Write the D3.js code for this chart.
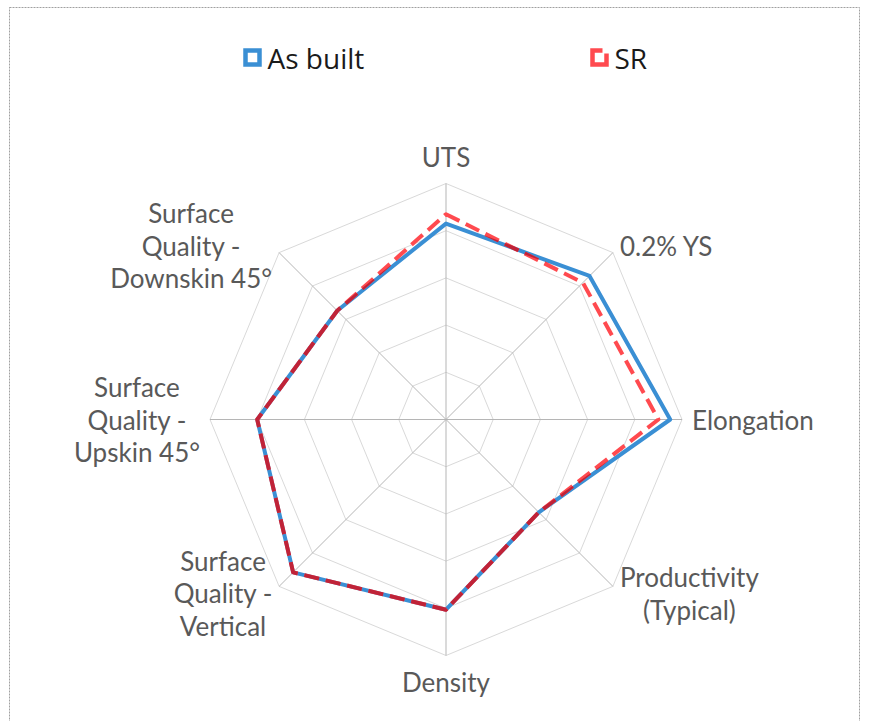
<!DOCTYPE html>
<html>
<head>
<meta charset="utf-8">
<script src="https://cdn.jsdelivr.net/npm/d3@7"></script>
<style>
  body { margin: 0; background: #fff; }
  svg { display: block; }
</style>
</head>
<body>
<main></main>
<script>
// Radar chart - As built vs SR

// data
const axes = ["UTS", "0.2% YS", "Elongation", "Productivity (Typical)", "Density",
              "Surface Quality - Vertical", "Surface Quality - Upskin 45°", "Surface Quality - Downskin 45°"];
const axisLines = [["UTS"], ["0.2% YS"], ["Elongation"], ["Productivity", "(Typical)"], ["Density"],
                   ["Surface", "Quality -", "Vertical"], ["Surface", "Quality -", "Upskin 45°"],
                   ["Surface", "Quality -", "Downskin 45°"]];
const asBuilt = [4.15, 4.3, 4.75, 2.78, 4.03, 4.58, 4.0, 3.26];
const sr      = [4.35, 4.1, 4.5, 2.78, 4.03, 4.58, 4.0, 3.26];
const ringTicks = [1, 2, 3, 4, 5];
const seriesNames = ["As built", "SR"];

//Parameters
const w = 870, h = 721;
const cx = 446, cy = 419.5, R = 236;
const blue = "#3a8fd4", red = "#ff4a4f", dark = "#bf2338";

const svg = d3.select("main").append("svg").attr("width", w).attr("height", h);

// frame
svg.append("rect")
   .attr("x", 9.5).attr("y", 7.5).attr("width", 850).attr("height", 730)
   .attr("fill", "none").attr("stroke", "#a0a0a0").attr("stroke-dasharray", "2,1");

const r = d3.scaleLinear().domain([0, 5]).range([0, R]);
const ang = d3.scaleLinear().domain([0, axes.length]).range([0, 2 * Math.PI]);

const pt = (i, v) => [cx + r(v) * Math.sin(ang(i)), cy - r(v) * Math.cos(ang(i))];

const g = svg.append("g");

// rings
const ringLine = d3.line().curve(d3.curveLinearClosed);
g.selectAll(".ring").data(ringTicks).enter().append("path")
 .attr("class", "ring")
 .attr("d", t => ringLine(axes.map((a, i) => pt(i, t))))
 .attr("fill", "none").attr("stroke", "#d9d9d9").attr("stroke-width", 1);

// spokes
g.selectAll(".spoke").data(axes).enter().append("line")
 .attr("class", "spoke")
 .attr("x1", cx).attr("y1", cy)
 .attr("x2", (d, i) => pt(i, 5)[0]).attr("y2", (d, i) => pt(i, 5)[1])
 .attr("stroke", "#b5b5b5").attr("stroke-width", 1);

// series
const blueD = ringLine(asBuilt.map((v, i) => pt(i, v)));
const redD = ringLine(sr.map((v, i) => pt(i, v)));

g.append("path").attr("d", blueD).attr("fill", "none")
 .attr("stroke", blue).attr("stroke-width", 4).attr("stroke-linejoin", "round");

// mask: where red dashes lie on blue line they look darker
const defs = svg.append("defs");
defs.append("mask").attr("id", "onBlue").attr("maskUnits", "userSpaceOnUse")
    .append("path").attr("d", blueD).attr("fill", "none")
    .attr("stroke", "#fff").attr("stroke-width", 4);

g.append("path").attr("d", redD).attr("fill", "none")
 .attr("stroke", red).attr("stroke-width", 4).attr("stroke-dasharray", "15,7")
 .attr("stroke-linejoin", "round");
g.append("path").attr("d", redD).attr("fill", "none")
 .attr("stroke", dark).attr("stroke-width", 4).attr("stroke-dasharray", "15,7")
 .attr("stroke-linejoin", "round").attr("mask", "url(#onBlue)");

// axis labels
const fs = 26, lh = 32.5;
const labels = svg.append("g")
  .attr("font-family", "Lato, 'Open Sans', sans-serif")
  .attr("font-size", fs).attr("fill", "#595959");

axisLines.forEach((lines, i) => {
  const a = ang(i);
  const s = Math.sin(a), c = Math.cos(a);
  const ax = cx + (R + 10) * s, ay = cy - (R + 10) * c;
  const t = labels.append("text").attr("text-anchor", "middle");
  lines.forEach((ln, k) => t.append("tspan").text(ln));
  const widths = [];
  t.selectAll("tspan").each(function() { widths.push(this.getComputedTextLength()); });
  const bw = d3.max(widths);
  const bh = lines.length * lh;
  let mx, top;
  if (Math.abs(s) < 0.01) {
    mx = ax;
    top = c > 0 ? ay - bh : ay;
  } else {
    mx = s > 0 ? ax + bw / 2 : ax - bw / 2;
    top = ay - bh / 2;
  }
  t.selectAll("tspan")
   .attr("x", mx)
   .attr("y", (d, k) => top + lh * k + lh / 2)
   .attr("dominant-baseline", "central");
});

// legend
const legend = svg.append("g")
  .attr("font-family", "'Open Sans', sans-serif").attr("font-size", 28).attr("fill", "#1a1a1a");
const legX = [245.5, 592.5];
seriesNames.forEach((name, i) => {
  legend.append("rect")
    .attr("x", legX[i]).attr("y", 50.5).attr("width", 14).attr("height", 14)
    .attr("fill", "#fff").attr("stroke", i === 0 ? blue : red).attr("stroke-width", 4.5)
    .attr("stroke-dasharray", i === 0 ? null : "10,7,39");
  legend.append("text")
    .attr("x", legX[i] + 22).attr("y", 57.5)
    .attr("dominant-baseline", "central")
    .text(name);
});
</script>
</body>
</html>
